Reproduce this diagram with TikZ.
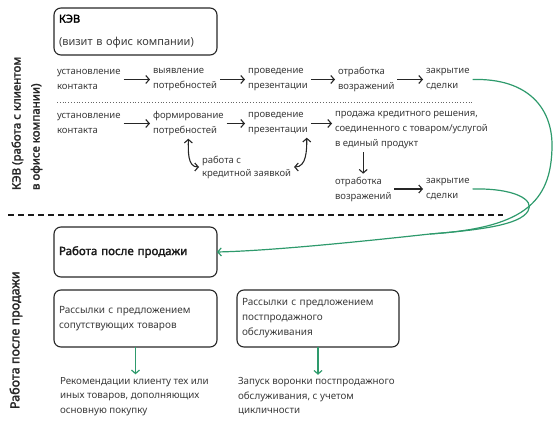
\documentclass[tikz,border=0pt]{standalone}
\usepackage{fontspec}
\setmainfont{Noto Sans}[AutoFakeBold=2]
\usetikzlibrary{arrows.meta}
\definecolor{flowgreen}{HTML}{2E9A6C}
\definecolor{inkgray}{HTML}{3A3A3A}
\begin{document}
\begin{tikzpicture}[x=1pt,y=-1pt,inner sep=0pt,outer sep=0pt,
steptext/.style={anchor=west,align=left,text=inkgray,outer sep=3pt,font=\fontsize{9.5}{15}\selectfont},
stagebox/.style={draw=black!85,rectangle,rounded corners=7pt,line width=1.1pt,anchor=north west,align=left,text=inkgray,inner xsep=5pt},
flow/.style={-{Straight Barb[length=3.5pt,width=8pt]},line width=1.1pt,black!85},
greenflow/.style={-{Straight Barb[length=3.5pt,width=8pt]},line width=1.2pt,flowgreen},
sidelabel/.style={rotate=90,anchor=west,align=left,text=black!85,font=\bfseries\fontsize{11.5}{19}\selectfont}]
\useasboundingbox (0,0) rectangle (559,427);
\draw (27,190) node[sidelabel] (kevside) {КЭВ (работа с клиентом\\в офисе компании)};
\draw (16,409) node[sidelabel,font=\bfseries\fontsize{12.5}{19}\selectfont] (afterside) {Работа после продажи};
\draw (54,8) node[stagebox,minimum width=163pt,minimum height=47pt,text width=153pt,font=\fontsize{11}{23}\selectfont] (kevbox) {{\bfseries\color{black}КЭВ}\\(визит в офис компании)};
\draw (54,79.5) node[steptext] (ust1) {установление\\контакта};
\draw (150,79.5) node[steptext] (vyy1) {выявление\\потребностей};
\draw (245,79.5) node[steptext] (prez1) {проведение\\презентации};
\draw (335,79.5) node[steptext] (otr1) {отработка\\возражений};
\draw (423,79.5) node[steptext] (zak1) {закрытие\\сделки};
\draw[flow] (ust1) -- (vyy1);
\draw[flow] (vyy1) -- (prez1);
\draw[flow] (prez1) -- (otr1);
\draw[flow] (otr1) -- (zak1);
\draw[black!60,line width=0.8pt,dotted] (ust1.south west) ++(3,10) coordinate (dotL) -- (dotL -| zak1.east);
\draw (54,123.5) node[steptext] (ust2) {установление\\контакта};
\draw (150,123.5) node[steptext] (form2) {формирование\\потребностей};
\draw (245,123.5) node[steptext] (prez2) {проведение\\презентации};
\draw (332,130.5) node[steptext] (prod2) {продажа кредитного решения,\\соединенного с товаром/услугой\\в единый продукт};
\draw (199,167) node[steptext,font=\fontsize{9.5}{13}\selectfont] (rab) {работа с\\кредитной заявкой};
\draw (332,189) node[steptext] (otr2) {отработка\\возражений};
\draw (423,189) node[steptext] (zak2) {закрытие\\сделки};
\draw[flow] (ust2) -- (form2);
\draw[flow] (form2) -- (prez2);
\draw[flow] (prez2.east) -- (prez2.east -| prod2.west);
\draw[flow] (otr2.north |- prod2.south) -- (otr2.north);
\draw[flow] (otr2) -- (zak2);
\draw[flow,{Straight Barb[length=3.5pt,width=8pt]}-{Straight Barb[length=3.5pt,width=8pt]}] (form2.south) to[out=-90,in=180] (rab.west);
\draw[flow,{Straight Barb[length=3.5pt,width=8pt]}-{Straight Barb[length=3.5pt,width=8pt]}] ([xshift=-4pt]prez2.south east) to[out=-90,in=0] (rab.east);
\draw[black!90,line width=1.6pt,dash pattern=on 6pt off 4pt] (8,215) -- (503,215);
\draw (54,227) node[stagebox,minimum width=163pt,minimum height=50pt,text width=153pt,font=\bfseries\fontsize{11.5}{12}\selectfont,text=black!90] (afterbox) {Работа после продажи};
\draw (54,290) node[stagebox,minimum width=163pt,minimum height=57pt,text width=153pt,font=\fontsize{10}{15}\selectfont] (crossbox) {Рассылки с предложением\\сопутствующих товаров};
\draw (237,290) node[stagebox,minimum width=162pt,minimum height=57pt,text width=152pt,font=\fontsize{10}{15}\selectfont] (servicebox) {Рассылки с предложением\\постпродажного\\обслуживания};
\draw (57,396.5) node[steptext,font=\fontsize{9.8}{14.5}\selectfont] (recA) {Рекомендации клиенту тех или\\иных товаров, дополняющих\\основную покупку};
\draw (235,396.5) node[steptext,font=\fontsize{9.8}{14.5}\selectfont] (recB) {Запуск воронки постпродажного\\обслуживания, с учетом\\цикличности};
\draw[greenflow] (crossbox.south) -- (crossbox.south |- recA.north);
\draw[greenflow] (servicebox.south) -- (servicebox.south |- recB.north);
\coordinate (merge) at (430,234);
\draw[greenflow] (zak1.east) .. controls (530,78) and (552,110) .. (552,145) .. controls (552,205) and (520,228) .. (merge) .. controls (330,245) and (260,251) .. (afterbox.east);
\draw[flowgreen,line width=1.2pt] (zak2.east) .. controls (515,188) and (535,200) .. (528,211) .. controls (520,225) and (480,230) .. (merge);
\end{tikzpicture}
\end{document}
